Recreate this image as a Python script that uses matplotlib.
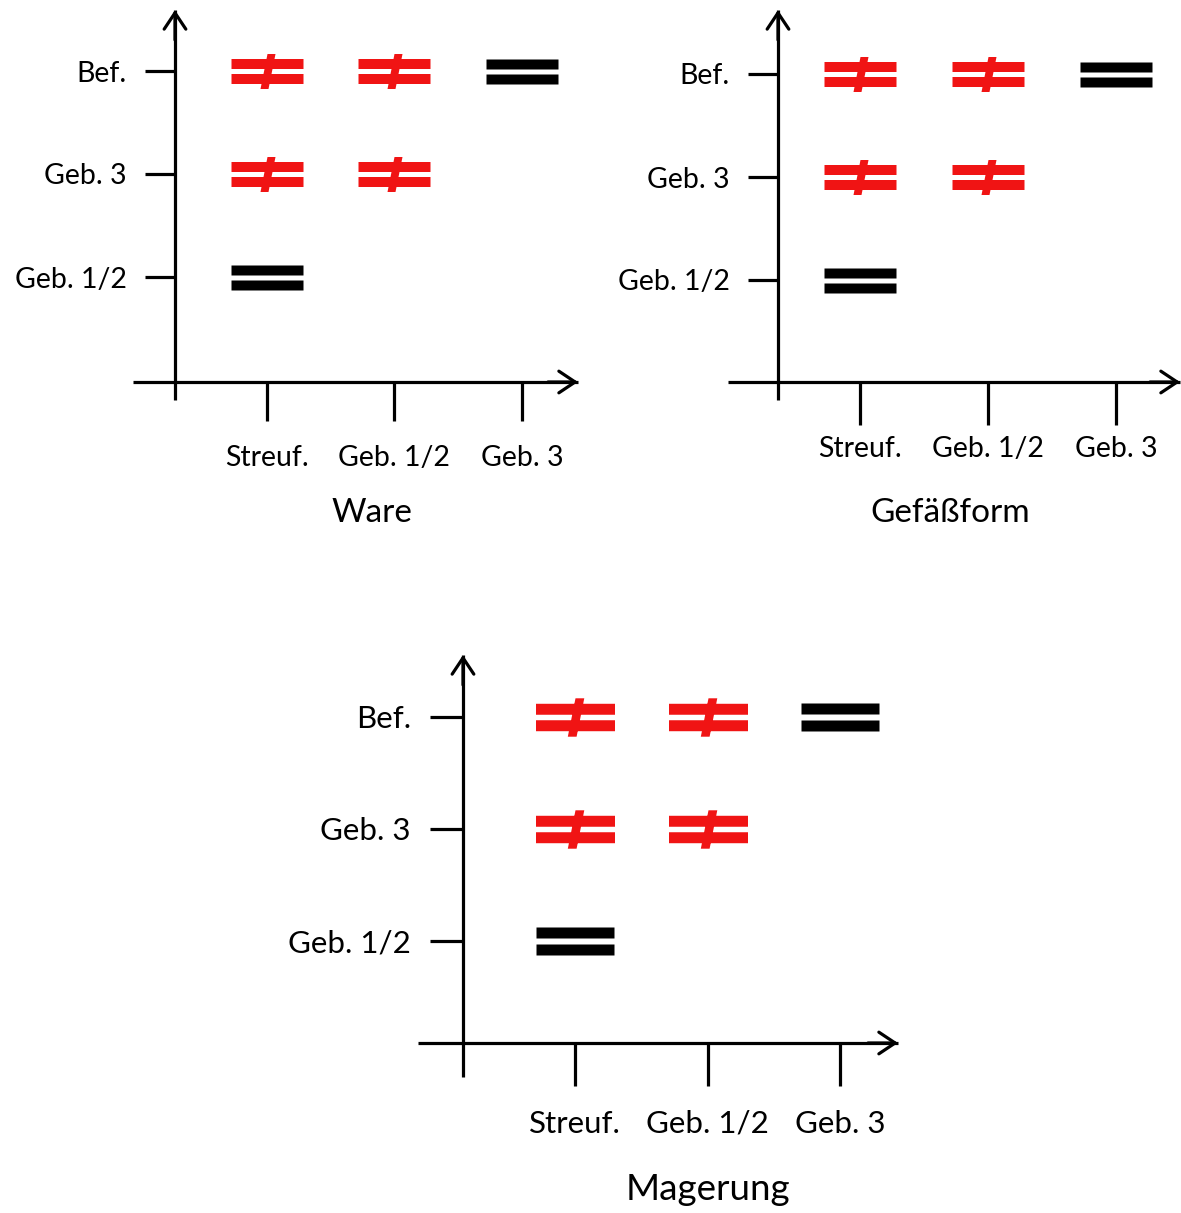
import numpy as np
import matplotlib.pyplot as plt
from matplotlib.path import Path

plt.rcParams['font.family'] = ['Lato', 'DejaVu Sans']

W, H, DPI = 1181, 1213, 100

# categories
x_labels = ['Streuf.', 'Geb. 1/2', 'Geb. 3']
y_labels = ['Geb. 1/2', 'Geb. 3', 'Bef.']
titles = ['Ware', 'Gefäßform', 'Magerung']

# compared pairs (column, row) and whether they differ (≠) or match (=)
pair_cols = [0, 1, 2, 0, 1, 0]
pair_rows = [2, 2, 2, 1, 1, 0]
ware_differs = [True, True, False, True, True, False]
form_differs = [True, True, False, True, True, False]
mag_differs = [True, True, False, True, True, False]

# panel layout in pixels
layouts = [
    dict(xt=267, dx=127.5, yt=277, dy=103, yax=175, xax=382, left=133, right=578,
         top=10, bottom=400, box=(0, 0, 595, 540), fs=20.5, tfs=24, mw=72,
         xlen=28, xpad=17, ylen=21.6, ypad=13, title=(372, 513)),
    dict(xt=860, dx=128, yt=280, dy=103, yax=778, xax=382, left=728, right=1180,
         top=10, bottom=400, box=(600, 0, 1181, 540), fs=20.5, tfs=24, mw=72,
         xlen=31, xpad=8, ylen=21.6, ypad=13, title=(950, 513)),
    dict(xt=575, dx=132.5, yt=941, dy=112, yax=463, xax=1043, left=418, right=898,
         top=655, bottom=1077, box=(260, 640, 930, 1213), fs=22.5, tfs=26.5, mw=79,
         xlen=31, xpad=17, ylen=23.5, ypad=14, title=(708, 1190)),
]


def rect(x0, x1, y0, y1):
    return [(x0, y0), (x1, y0), (x1, y1), (x0, y1), (x0, y0)]


def build_marker(slash):
    verts = rect(-36, 36, 2.5, 12.5) + rect(-36, 36, -12.5, -2.5)
    if slash:
        verts += [(-7, -17.5), (1, -17.5), (8, 17.5), (0, 17.5), (-7, -17.5)]
    n = len(verts) // 5
    codes = [Path.MOVETO, Path.LINETO, Path.LINETO, Path.LINETO, Path.CLOSEPOLY] * n
    return Path(verts, codes)


eq_marker = build_marker(False)
ne_marker = build_marker(True)

fig = plt.figure(figsize=(W / DPI, H / DPI), dpi=DPI)

for lay, title, differs in zip(layouts, titles, [ware_differs, form_differs, mag_differs]):
    L, T, R, B = lay['box']
    ax = fig.add_axes([L / W, 1 - B / H, (R - L) / W, (B - T) / H])
    ax.patch.set_alpha(0)

    px_to_x = lambda p: (p - lay['xt']) / lay['dx'] + 1
    px_to_y = lambda p: (lay['yt'] - p) / lay['dy'] + 1
    ax.set_xlim(px_to_x(L), px_to_x(R))
    ax.set_ylim(px_to_y(B), px_to_y(T))

    for s in ['top', 'right']:
        ax.spines[s].set_visible(False)
    ax.spines['left'].set_position(('data', px_to_x(lay['yax'])))
    ax.spines['left'].set_bounds(px_to_y(lay['bottom']), px_to_y(lay['top']))
    ax.spines['bottom'].set_position(('data', px_to_y(lay['xax'])))
    ax.spines['bottom'].set_bounds(px_to_x(lay['left']), px_to_x(lay['right']))
    for s in ['left', 'bottom']:
        ax.spines[s].set_linewidth(2.3)
        ax.spines[s].set_capstyle('butt')

    arrow = dict(arrowstyle='->, head_length=0.45, head_width=0.3', lw=2.3,
                 color='black', mutation_scale=26, shrinkA=0, shrinkB=0)
    ax.annotate('', xy=(px_to_x(lay['yax']), px_to_y(lay['top'])),
                xytext=(px_to_x(lay['yax']), px_to_y(lay['top'] + 30)), arrowprops=arrow)
    ax.annotate('', xy=(px_to_x(lay['right']), px_to_y(lay['xax'])),
                xytext=(px_to_x(lay['right'] - 30), px_to_y(lay['xax'])), arrowprops=arrow)

    ax.set_xticks([1, 2, 3], x_labels, fontsize=lay['fs'])
    ax.set_yticks([1, 2, 3], y_labels, fontsize=lay['fs'])
    ax.tick_params(axis='x', direction='out', length=lay['xlen'], width=2.3, pad=lay['xpad'])
    ax.tick_params(axis='y', direction='out', length=lay['ylen'], width=2.3, pad=lay['ypad'])

    ms = lay['mw'] * 72 / DPI
    cols = np.array(pair_cols) + 1
    rows = np.array(pair_rows) + 1
    d = np.array(differs)
    ax.plot(cols[d], rows[d], ls='none', marker=ne_marker, ms=ms,
            color='#f01414', mec='none')
    ax.plot(cols[~d], rows[~d], ls='none', marker=eq_marker, ms=ms,
            color='black', mec='none')

    fig.text(lay['title'][0] / W, 1 - lay['title'][1] / H, title,
             fontsize=lay['tfs'], ha='center', va='center')

fig.savefig('out.png', dpi=DPI)
